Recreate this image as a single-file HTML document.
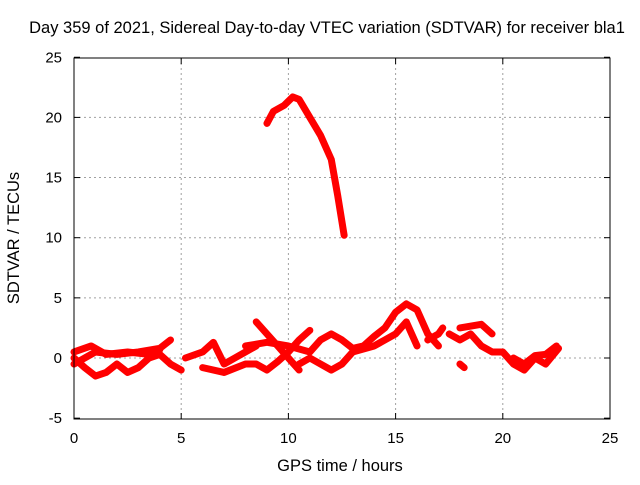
<!DOCTYPE html>
<html><head><meta charset="utf-8"><style>
body{margin:0;background:#fff}
text{font-family:"Liberation Sans",sans-serif;font-size:15px;fill:#000}
.t{font-size:16.5px}
</style></head><body>
<svg id="c" width="640" height="480">
<text class="t" x="327" y="33" text-anchor="middle">Day 359 of 2021, Sidereal Day-to-day VTEC variation (SDTVAR) for receiver bla1</text>
<text class="t" x="340" y="471" text-anchor="middle">GPS time / hours</text>
<text class="t" transform="translate(19,238) rotate(-90)" text-anchor="middle">SDTVAR / TECUs</text>
<g id="grid"></g><g id="ticks"></g><g id="marks"></g>
<rect x="74" y="58" width="536" height="361" fill="none" stroke="#000"/>
</svg>
<script>
const xTicks=[0,5,10,15,20,25];
const yTicks=[-5,0,5,10,15,20,25];
const tracks=[
[[9.0,19.5],[9.3,20.5],[9.8,21],[10.2,21.7],[10.5,21.5],[11,20],[11.5,18.5],[12,16.5],[12.3,13.5],[12.6,10.2]],
[[0,-0.5],[1,0.5],[2,0.3],[3,0.5],[4,0.8],[4.5,1.5]],
[[0,0],[0.5,-0.8],[1,-1.5],[1.5,-1.2],[2,-0.5],[2.5,-1.2],[3,-0.8],[3.5,0],[4,0.3],[4.5,-0.5],[5,-1]],
[[0,0.5],[0.8,1],[1.5,0.3],[2.5,0.5],[3.5,0.3],[4,0.7]],
[[5.2,0],[6,0.5],[6.5,1.3],[7,-0.5],[7.5,0],[8,0.5],[8.5,1]],
[[6,-0.8],[7,-1.2],[8,-0.5],[8.5,-0.5],[9,-1],[9.5,-0.3],[10,0.5],[10.5,1.5],[11,2.3]],
[[8.5,3],[9,2],[9.5,1],[10,0],[10.5,-1]],
[[8,1],[9,1.3],[10,1],[11,0.5],[11.5,1.5],[12,2],[12.5,1.5],[13,0.8],[13.5,1],[14,1.8],[14.5,2.5],[15,3.8],[15.5,4.5],[16,4],[16.5,2],[17,1]],
[[10.5,-0.5],[11,0],[12,-1],[12.5,-0.5],[13,0.5],[14,1],[15,2],[15.5,3],[16,1]],
[[17.5,2],[18,1.5],[18.5,2],[19,1],[19.5,0.5],[20,0.5],[20.5,-0.5],[21,-1],[21.5,0],[22,-0.5],[22.6,0.8]],
[[18,2.5],[19,2.8],[19.5,2]],
[[18,-0.5],[18.2,-0.8]],
[[16.5,1.5],[17,2],[17.2,2.5]],
[[20.5,0],[21,-0.5],[21.5,0.2],[22,0.3],[22.5,1]]
];
const X=v=>74+v*536/25, Y=v=>358-v*12.03;
const ns="http://www.w3.org/2000/svg";
function mk(t,a,p){const e=document.createElementNS(ns,t);for(const k in a)e.setAttribute(k,a[k]);p.appendChild(e);return e;}
const g=document.getElementById('grid'),tk=document.getElementById('ticks'),m=document.getElementById('marks');
xTicks.forEach(v=>{
 if(v>0&&v<25){const l=mk('line',{x1:X(v),x2:X(v),y1:58,y2:419,stroke:'#a0a0a0','stroke-dasharray':'2,3'},g);
 }
 const t=mk('text',{x:X(v),y:443,'text-anchor':'middle'},tk);t.textContent=v;
 
 mk('line',{x1:X(v),x2:X(v),y1:419,y2:413,stroke:'#000'},tk);mk('line',{x1:X(v),x2:X(v),y1:58,y2:64,stroke:'#000'},tk);
});
yTicks.forEach(v=>{
 if(v>-5&&v<25){const l=mk('line',{x1:74,x2:610,y1:Y(v),y2:Y(v),stroke:'#a0a0a0','stroke-dasharray':'2,3'},g);
 }
 const t=mk('text',{x:62,y:Y(v)+5,'text-anchor':'end'},tk);t.textContent=v;
 
 mk('line',{x1:74,x2:80,y1:Y(v),y2:Y(v),stroke:'#000'},tk);mk('line',{x1:604,x2:610,y1:Y(v),y2:Y(v),stroke:'#000'},tk);
});
tracks.forEach(tr=>{
 const p=mk('polyline',{points:tr.map(d=>X(d[0])+','+Y(d[1])).join(' '),fill:'none',stroke:'#f00','stroke-width':7,'stroke-linejoin':'round','stroke-linecap':'round'},m);
 
 
});
</script>
</body></html>
